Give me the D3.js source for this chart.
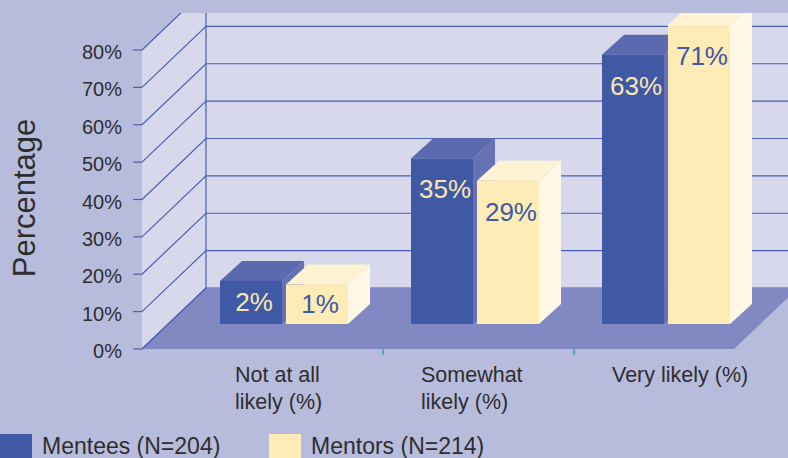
<!DOCTYPE html>
<html>
<head>
<meta charset="utf-8">
<script src="https://cdn.jsdelivr.net/npm/d3@7"></script>
<style>
  html, body { margin: 0; padding: 0; background: #b8bcdc; }
  svg { display: block; }
  text { font-family: "Liberation Sans", Arial, sans-serif; }
</style>
</head>
<body>
<script>
// ---- data ----
const categories = ["Not at all likely (%)", "Somewhat likely (%)", "Very likely (%)"];
const categoryLines = [["Not at all", "likely (%)"], ["Somewhat", "likely (%)"], ["Very likely (%)"]];
const seriesNames = ["Mentees (N=204)", "Mentors (N=214)"];
const mentees = [2, 35, 63];
const mentors = [1, 29, 71];
const yTickValues = [0, 10, 20, 30, 40, 50, 60, 70, 80];
const yTickLabels = ["0%", "10%", "20%", "30%", "40%", "50%", "60%", "70%", "80%"];

// ---- style ----
const W = 788, H = 458;
const C = {
  bg: "#b8bcdc", wall: "#d7d8ec", floor: "#8288c1", grid: "#4a5fb0",
  blue: "#3f59a5", blueTop: "#5b69ae", blueSide: "#6571b4",
  yel: "#feebb6", yelTop: "#fff3d3", yelSide: "#fff8e7",
  text: "#2e2e2e", catTick: "#2a8ab0"
};
const seriesColors = [
  { front: C.blue, top: C.blueTop, side: C.blueSide, label: "#fbe6b0" },
  { front: C.yel, top: C.yelTop, side: C.yelSide, label: "#4059a5" }
];

const svg = d3.select("body").append("svg").attr("width", W).attr("height", H);
svg.append("rect").attr("width", W).attr("height", H).attr("fill", C.bg);

// geometry
const frontX = 142, depthDX = 64, depthDY = 61;
const floorRight = 734;
const y = d3.scaleLinear().domain([0, 80]).range([349, 50]);          // front plane
const yBack = v => y(v) - depthDY;                                      // back wall
const yBar = d3.scaleLinear().domain([0, 80]).range([288.3, -8.4]);     // bar tops
const barBase = 324;
const x = d3.scaleBand().domain(categories).range([192, 765]);
const xInner = d3.scaleBand().domain(seriesNames).range([28, 156]).paddingInner(0.06);
const barDX = 22, barDY = 20;

const defs = svg.append("defs");
defs.append("clipPath").attr("id", "plotclip")
  .append("rect").attr("x", 0).attr("y", 13).attr("width", W).attr("height", H - 13);

const plot = svg.append("g").attr("clip-path", "url(#plotclip)");

// back wall
plot.append("rect")
  .attr("x", frontX + depthDX).attr("y", yBack(80))
  .attr("width", W).attr("height", yBack(0) - yBack(80))
  .attr("fill", C.wall);
// side wall
plot.append("polygon")
  .attr("points", [[frontX, y(0)], [frontX + depthDX, yBack(0)], [frontX + depthDX, yBack(80)], [frontX, y(80)]].join(" "))
  .attr("fill", C.wall);

// gridlines
yTickValues.forEach(v => {
  plot.append("polyline")
    .attr("points", [[frontX, y(v)], [frontX + depthDX, yBack(v)], [W + 20, yBack(v)]].join(" "))
    .attr("fill", "none").attr("stroke", C.grid).attr("stroke-width", 1.2);
});
plot.append("line")
  .attr("x1", frontX + depthDX).attr("x2", frontX + depthDX)
  .attr("y1", yBack(80)).attr("y2", yBack(0))
  .attr("stroke", C.grid).attr("stroke-width", 1.2);

// floor
plot.append("polygon")
  .attr("points", [[frontX, y(0)], [floorRight, y(0)], [floorRight + depthDX, yBack(0)], [frontX + depthDX, yBack(0)]].join(" "))
  .attr("fill", C.floor);
plot.append("line")
  .attr("x1", frontX).attr("y1", y(0)).attr("x2", frontX + depthDX).attr("y2", yBack(0))
  .attr("stroke", C.grid).attr("stroke-width", 1.2);

// bars
const seriesValues = [mentees, mentors];
categories.forEach((cat, ci) => {
  seriesNames.forEach((s, si) => {
    const v = seriesValues[si][ci];
    const col = seriesColors[si];
    const x0 = x(cat) + xInner(s), bw = xInner.bandwidth();
    const x1 = x0 + bw;
    const top = yBar(v);
    const g = plot.append("g");
    // side face
    g.append("polygon")
      .attr("points", [[x1, barBase], [x1, top], [x1 + barDX, top - barDY], [x1 + barDX, barBase - barDY]].join(" "))
      .attr("fill", col.side);
    // top face
    g.append("polygon")
      .attr("points", [[x0, top], [x1, top], [x1 + barDX, top - barDY], [x0 + barDX, top - barDY]].join(" "))
      .attr("fill", col.top);
    // front face
    g.append("rect").attr("x", x0).attr("y", top).attr("width", bw).attr("height", barBase - top)
      .attr("fill", col.front);
    // value label
    const ly = Math.min(top + 31, (top + barBase) / 2);
    g.append("text")
      .attr("x", x0 + bw / 2 + 3).attr("y", ly)
      .attr("text-anchor", "middle").attr("dominant-baseline", "central")
      .attr("font-size", 26).attr("fill", col.label)
      .text(v + "%");
  });
});

// y axis ticks & labels
yTickValues.forEach((v, i) => {
  svg.append("line").attr("x1", frontX - 9).attr("x2", frontX).attr("y1", y(v)).attr("y2", y(v))
    .attr("stroke", C.grid).attr("stroke-width", 1.2);
  svg.append("text").attr("x", 122).attr("y", y(v) + 2)
    .attr("text-anchor", "end").attr("dominant-baseline", "central")
    .attr("font-size", 20).attr("fill", C.text).text(yTickLabels[i]);
});

// y title
svg.append("text")
  .attr("transform", "translate(35,198) rotate(-90)")
  .attr("text-anchor", "middle")
  .attr("font-size", 31).attr("fill", C.text)
  .text("Percentage");

// category ticks
categories.slice(1).forEach(cat => {
  svg.append("line").attr("x1", x(cat)).attr("x2", x(cat)).attr("y1", 349).attr("y2", 355)
    .attr("stroke", C.catTick).attr("stroke-width", 1.2);
});

// category labels
categories.forEach((cat, ci) => {
  const t = svg.append("text").attr("font-size", 21.5).attr("fill", C.text);
  categoryLines[ci].forEach((line, li) => {
    t.append("tspan").attr("x", x(cat) + 38 + (ci === 0 ? 5 : 0)).attr("y", 382 + li * 27).text(line);
  });
});

// legend
const legendX = [0, 269];
seriesNames.forEach((s, i) => {
  svg.append("rect").attr("x", legendX[i]).attr("y", 434).attr("width", 32).attr("height", 30)
    .attr("fill", seriesColors[i].front);
  svg.append("text").attr("x", legendX[i] + 42).attr("y", 454)
    .attr("font-size", 23).attr("fill", C.text).text(s);
});
</script>
</body>
</html>
